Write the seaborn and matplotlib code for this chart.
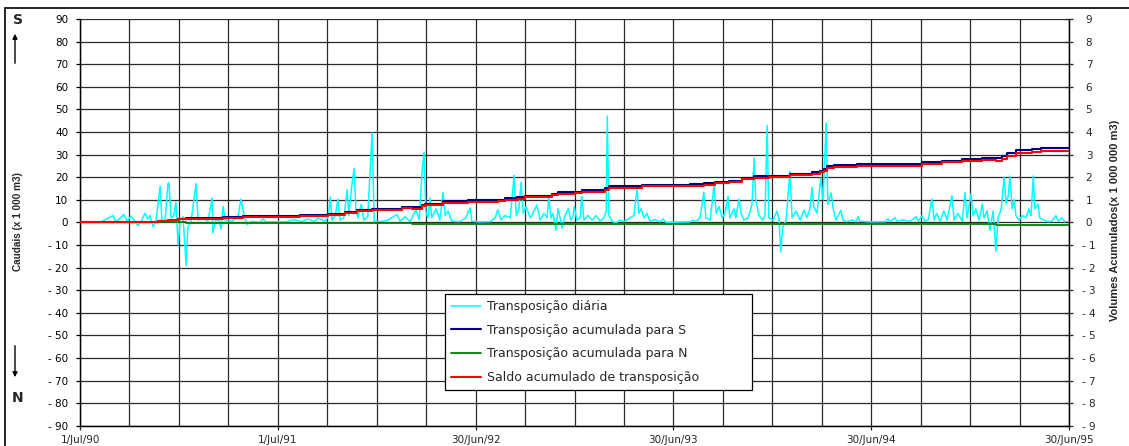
import numpy as np
import pandas as pd
import matplotlib
matplotlib.use("Agg")
import matplotlib.pyplot as plt
import seaborn as sns
from matplotlib.patches import Rectangle

# daily transfer (x 1 000 m3), days counted from 1/Jul/90
daily_days = [0, 37, 61, 66, 81, 87, 94, 100, 107, 113, 120, 125, 129, 135, 140, 148, 151, 157,
              162, 164, 168, 173, 177, 181, 185, 190, 196, 199, 205, 214, 218, 227, 236, 244,
              245, 251, 257, 260, 264, 268, 281, 292, 297, 303, 308, 317, 332, 338, 343, 380,
              395, 408, 421, 432, 439, 452, 458, 462, 465, 471, 476, 480, 487, 493, 496, 502,
              506, 509, 513, 519, 524, 531, 539, 543, 554, 568, 585, 591, 600, 609, 620, 626,
              631, 635, 638, 642, 646, 649, 657, 664, 670, 674, 679, 686, 701, 712, 720, 723,
              738, 757, 766, 771, 777, 784, 794, 801, 805, 810, 814, 818, 823, 831, 838, 843,
              849, 856, 862, 865, 869, 873, 878, 882, 886, 889, 895, 901, 906, 910, 912, 917,
              923, 926, 930, 937, 945, 952, 960, 967, 971, 973, 976, 982, 989, 996, 1004, 1015,
              1022, 1028, 1031, 1035, 1041, 1046, 1052, 1061, 1070, 1076, 1081, 1126, 1131,
              1137, 1144, 1151, 1155, 1163, 1170, 1174, 1179, 1185, 1190, 1196, 1199, 1207,
              1210, 1216, 1220, 1225, 1233, 1240, 1244, 1247, 1253, 1260, 1264, 1268, 1271,
              1279, 1286, 1290, 1293, 1297, 1303, 1310, 1314, 1321, 1329, 1336, 1341, 1347,
              1351, 1354, 1360, 1364, 1367, 1371, 1377, 1380, 1386, 1390, 1395, 1399, 1404,
              1408, 1415, 1425, 1432, 1436, 1439, 1458, 1486, 1491, 1495, 1504, 1508, 1519,
              1532, 1543, 1547, 1554, 1559, 1565, 1572, 1576, 1581, 1587, 1594, 1600, 1609,
              1613, 1620, 1628, 1633, 1637, 1644, 1648, 1653, 1659, 1665, 1668, 1674, 1679,
              1685, 1690, 1694, 1700, 1705, 1709, 1713, 1716, 1720, 1724, 1727, 1733, 1739,
              1746, 1751, 1755, 1759, 1762, 1768, 1771, 1779, 1786, 1793, 1801, 1805, 1812,
              1817, 1825]
daily_vals = [0, 0, 3, 0.2, 3.4, 0.5, 2.8, 1, -1.5, 0.5, 4, 1.5, 3, -2, 0.5, 16, 1, 0.5,
              17.1, 17.5, 2, 3, 8.9, -9.9, 1, 2.5, -19.2, -2, 0.5, 17.1, 1, 2, 0.5, 10.8,
              -4.7, 1.5, 0.5, -3, 7, 1, 0.5, 3, 10.3, 3, -1, 0.5, 0, 1.5, 0.2, 0.3,
              1.2, 0.3, 1.5, 0.3, 2, 0.5, 2.5, 11.2, 1, 3, 10.3, 1, 2, 14.5, 3, 17.4,
              23.9, 5, 2, 8, 1, 2.5, 39.6, 0.5, 0.3, 1, 3.5, 0.5, 2.5, 0.3, 5.6, 1,
              21.9, 31, 5, 2, 10.8, 2, 6, 1, 13.3, 3, 5, 0.5, 0.3, 2, 6.4, 0.5,
              0.2, 0.3, 2, 5.6, 1, 3, 2, 20.8, 3, 6, 17.7, 4, 7, 2, 5, 7.7,
              1, 4, 2, 11.2, 2, 4, -3.5, 6, 2, -2.5, 3, 6, 1, 3, 7, 1,
              2, 11.5, 1, 3, 1, 3, 0.5, 2, 5, 47, 3, 0.5, -0.5, 1, 0.3, 2,
              3, 15.2, 4, 6, 2, 4, 0.5, 1.2, 0.2, 1.5, 0, 0.2, 1,
              0.3, 2, 13.3, 2, 1, 16.7, 4, 7, 2, 4, 11.5, 2, 6,
              2, 10.3, 4, 1, 2, 8, 28.5, 10, 3, 1, 3, 42.9, 2,
              1, 5, 1.5, -13.2, -2, 1, 22.6, 2, 5, 1, 5.5, 2, 6,
              15.5, 7, 4, 13, 19.6, 10, 44, 8, 13, 6, 1, 3, 5.4,
              1, 0.3, 1, 0.2, 2.5, 0.5, 0.2, 0.3, 1.5, 0.3, 2, 0.5, 1,
              0.5, 2.5, 0.5, 3, 0.5, 1, 10.3, 1, 4, 0.5, 5, 1, 11.7,
              1, 4, 0.5, 13.3, 2, 12.6, 3, 6, 1, 8.2, 2, 5, -3.5,
              5, -12.8, 2, 6, 20, 8, 12, 20.5, 6, 10, 3, 1, 3,
              2, 6, 3, 20.5, 6, 8, 2, 1, 0.3, 0.5, 3, 0.5, 2,
              0.3, 0.2]

# cumulative volumes (x 1 000 000 m3)
cum_s_days = [0, 144, 162, 181, 196, 264, 301, 406, 458, 489, 511, 539, 594, 631, 637, 670,
              716, 771, 784, 806, 821, 871, 882, 913, 926, 969, 976, 1037, 1126, 1151, 1172,
              1198, 1222, 1244, 1271, 1310, 1351, 1366, 1373, 1378, 1391, 1434, 1554, 1591,
              1628, 1665, 1701, 1711, 1727, 1757, 1773, 1825]
cum_s_vals = [0, 0.05, 0.12, 0.15, 0.18, 0.24, 0.29, 0.31, 0.35, 0.45, 0.53, 0.59, 0.68, 0.78,
              0.82, 0.93, 0.97, 1.0, 1.07, 1.12, 1.18, 1.27, 1.33, 1.36, 1.43, 1.5, 1.6, 1.66,
              1.68, 1.74, 1.8, 1.84, 1.97, 2.04, 2.07, 2.15, 2.22, 2.29, 2.36, 2.48, 2.53, 2.57,
              2.67, 2.72, 2.8, 2.84, 2.92, 3.07, 3.18, 3.25, 3.3, 3.3]

cum_n_days = [0, 196, 613, 1690, 1825]
cum_n_vals = [0, -0.04, -0.07, -0.13, -0.13]

saldo_days = [0, 144, 162, 181, 196, 264, 301, 406, 458, 489, 511, 539, 594, 613, 631, 637,
              670, 716, 771, 784, 806, 821, 871, 882, 913, 926, 969, 976, 1037, 1126, 1151,
              1172, 1198, 1222, 1244, 1271, 1310, 1351, 1366, 1373, 1378, 1391, 1434, 1554,
              1591, 1628, 1665, 1690, 1701, 1711, 1727, 1757, 1773, 1825]
saldo_vals = [0, 0.05, 0.12, 0.15, 0.14, 0.20, 0.25, 0.27, 0.31, 0.41, 0.49, 0.55, 0.64, 0.61,
              0.71, 0.75, 0.86, 0.90, 0.93, 1.00, 1.05, 1.11, 1.20, 1.26, 1.29, 1.36, 1.43,
              1.53, 1.59, 1.61, 1.67, 1.73, 1.77, 1.90, 1.97, 2.00, 2.08, 2.15, 2.22, 2.29,
              2.41, 2.46, 2.50, 2.60, 2.65, 2.73, 2.77, 2.71, 2.79, 2.94, 3.05, 3.12, 3.17, 3.17]

x_tick_days = [0, 365, 730, 1095, 1460, 1825]
x_tick_labels = ["1/Jul/90", "1/Jul/91", "30/Jun/92", "30/Jun/93", "30/Jun/94", "30/Jun/95"]
left_ticks = list(range(-90, 91, 10))
right_ticks = list(range(-9, 10))

legend_labels = ["Transposição diária", "Transposição acumulada para S",
                 "Transposição acumulada para N", "Saldo acumulado de transposição"]

sns.set_style("white")
plt.rcParams["font.family"] = ["DejaVu Sans"]

W, H = 1129, 446
fig = plt.figure(figsize=(W / 100, H / 100), dpi=100)
ax = fig.add_axes([80 / W, 1 - 425.7 / H, (1069 - 80) / W, (425.7 - 19) / H])
ax2 = ax.twinx()

daily = pd.DataFrame({"day": daily_days, "val": daily_vals})
sns.lineplot(data=daily, x="day", y="val", ax=ax, color="#00FFFF", lw=1.1,
             label=legend_labels[0], legend=False, zorder=3)

sns.lineplot(x=cum_s_days, y=cum_s_vals, ax=ax2, color="#000080", lw=1.5,
             drawstyle="steps-post", label=legend_labels[1], legend=False, zorder=4)
sns.lineplot(x=cum_n_days, y=cum_n_vals, ax=ax2, color="#008000", lw=1.3,
             drawstyle="steps-post", label=legend_labels[2], legend=False, zorder=4)
sns.lineplot(x=saldo_days, y=saldo_vals, ax=ax2, color="#FF0000", lw=1.5,
             drawstyle="steps-post", label=legend_labels[3], legend=False, zorder=5)

ax.set_xlim(0, 1825)
ax.set_ylim(-90, 90)
ax2.set_ylim(-9, 9)
ax.set_xlabel("")
ax.set_ylabel("")
ax2.set_ylabel("")

ax.set_xticks(x_tick_days)
ax.set_xticklabels(x_tick_labels)
ax.set_xticks(np.arange(0, 1826, 365 / 4), minor=True)
ax.set_yticks(left_ticks)
ax.set_yticklabels([f"- {abs(v)}" if v < 0 else str(v) for v in left_ticks])
ax2.set_yticks(right_ticks)
ax2.set_yticklabels([f"- {abs(v)}" if v < 0 else str(v) for v in right_ticks])
for t in ax2.get_yticklabels():
    t.set_horizontalalignment("center")

ax.grid(True, which="both", axis="x", color="#2a2a2a", lw=0.9)
ax.grid(True, which="major", axis="y", color="#2a2a2a", lw=0.9)
ax.set_axisbelow(True)

ax.tick_params(axis="y", direction="out", length=3, width=0.9, pad=5.5, labelsize=7.5,
               left=True, colors="black")
ax.tick_params(axis="x", which="major", direction="out", length=3, width=0.9, pad=3.5,
               labelsize=7.5, bottom=True)
ax.tick_params(axis="x", which="minor", length=0)
ax2.tick_params(axis="y", direction="inout", length=6, width=0.9, pad=11.4, labelsize=7.5,
                right=True)

for a in (ax, ax2):
    for s in ["top"]:
        a.spines[s].set_visible(False)
    for s in ["left", "bottom", "right"]:
        a.spines[s].set_color("black")
        a.spines[s].set_linewidth(0.9)

h1, l1 = ax.get_legend_handles_labels()
h2, l2 = ax2.get_legend_handles_labels()
leg = ax2.legend(h1 + h2, l1 + l2, loc="upper left",
                 bbox_to_anchor=(0.369, 0.0755, 0.3105, 0.2485), mode="expand",
                 borderaxespad=0, fontsize=9, frameon=True, fancybox=False, shadow=False,
                 framealpha=1, edgecolor="black", handlelength=2.4, handletextpad=0.5,
                 labelspacing=0.85, borderpad=0.5)
leg.get_frame().set_linewidth(0.9)
leg.set_zorder(10)

# axis titles and direction markers
fig.text(18 / W, 1 - 222 / H, "Caudais (x 1 000 m3)", rotation=90, ha="center", va="center",
         fontsize=7.2, fontweight="bold", family="Liberation Sans")
fig.text(1115 / W, 1 - 220 / H, "Volumes Acumulados(x 1 000 000 m3)", rotation=90,
         ha="center", va="center", fontsize=8, fontweight="bold", family="Liberation Sans")
fig.text(18 / W, 1 - 20 / H, "S", ha="center", va="center", fontsize=10, fontweight="bold")
fig.text(18 / W, 1 - 398 / H, "N", ha="center", va="center", fontsize=10, fontweight="bold")
ax.annotate("", xy=(15, H - 31), xytext=(15, H - 66), xycoords="figure pixels",
            textcoords="figure pixels",
            arrowprops=dict(arrowstyle="-|>", lw=1, color="black", mutation_scale=7))
ax.annotate("", xy=(15, H - 380), xytext=(15, H - 343), xycoords="figure pixels",
            textcoords="figure pixels",
            arrowprops=dict(arrowstyle="-|>", lw=1, color="black", mutation_scale=7))

# chart area border
fig.patches.append(Rectangle((5 / W, -0.05), 1.2, 1 - 8 / H + 0.05, transform=fig.transFigure,
                             fill=False, edgecolor="black", lw=1.2))

fig.savefig("out.png", dpi=100, facecolor="white")
